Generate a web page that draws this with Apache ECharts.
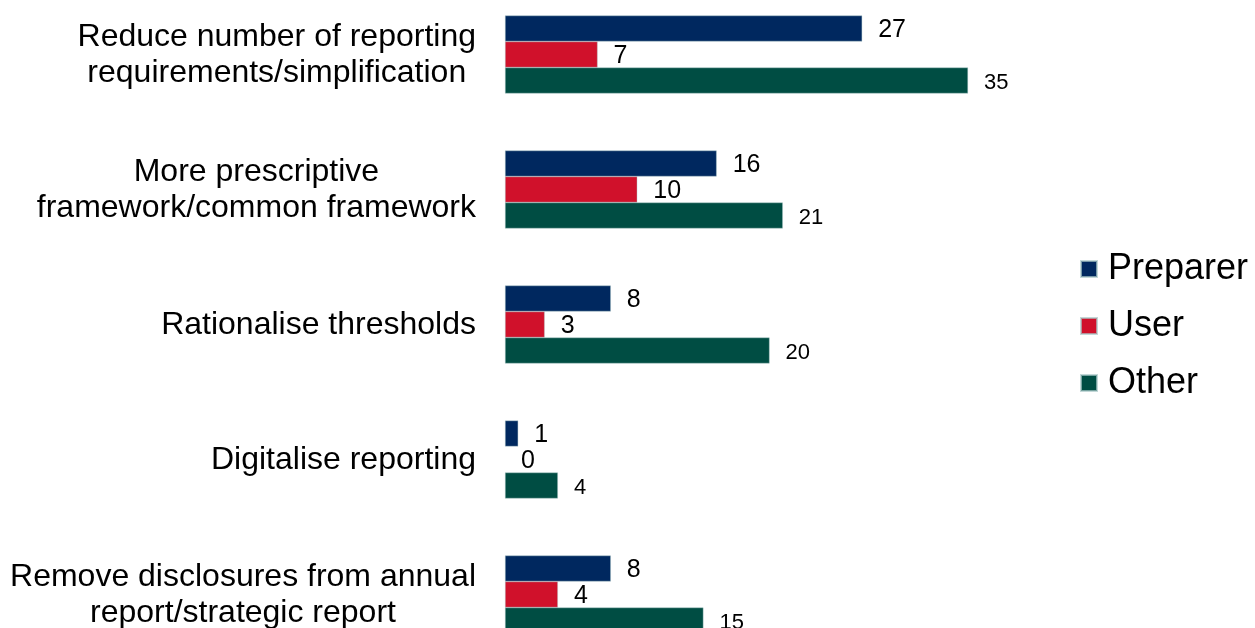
<!DOCTYPE html>
<html>
<head>
<meta charset="utf-8">
<script src="https://cdn.jsdelivr.net/npm/echarts@6/dist/echarts.min.js"></script>
<style>
  html, body { margin: 0; padding: 0; background: #ffffff; overflow: hidden; width: 1255px; height: 628px; }
  /* the plot runs past the bottom edge, so the canvas starts a little above the page */
  #chart { position: absolute; left: 0; top: -13px; width: 1255px; height: 700px; }
</style>
</head>
<body>
<div id="chart"></div>
<script>
// Suggested reporting changes, counted by respondent type
const categories = [
  'Reduce number of reporting\nrequirements/simplification',
  'More prescriptive\nframework/common framework',
  'Rationalise thresholds',
  'Digitalise reporting',
  'Remove disclosures from annual\nreport/strategic report'
];
const seriesNames = ['Preparer', 'User', 'Other'];
const preparer = [27, 16, 8, 1, 8];
const user = [7, 10, 3, 0, 4];
const other = [35, 21, 20, 4, 15];

const colors = ['#00285f', '#d0112b', '#004d43'];
const font = 'Liberation Sans, Arial, sans-serif';

function barSeries(name, data, color, labelSize) {
  return {
    name: name,
    type: 'bar',
    // zero-length bars get no outline
    data: data.map(function (v) {
      return v === 0 ? { value: v, itemStyle: { borderWidth: 0 } } : v;
    }),
    barWidth: 26,
    barGap: '0%',
    itemStyle: { color: color, borderColor: 'rgba(170,200,200,0.7)', borderWidth: 0.6 },
    label: {
      show: true,
      position: 'right',
      distance: 16,
      offset: [0, 2],
      color: '#000000',
      fontFamily: font,
      fontSize: labelSize
    }
  };
}

const chart = echarts.init(document.getElementById('chart'));
chart.setOption({
  backgroundColor: '#ffffff',
  animation: false,
  grid: { left: 505, width: 661.5, top: 0, height: 675, containLabel: false },
  xAxis: {
    type: 'value',
    min: 0,
    max: 50,
    show: false
  },
  yAxis: {
    type: 'category',
    data: categories,
    inverse: true,
    axisLine: { show: false },
    axisTick: { show: false },
    splitLine: { show: false },
    axisLabel: {
      margin: 29,
      align: 'right',
      // each line is centred inside the right-aligned label block
      formatter: function (value) {
        return value.split('\n').map(function (line) { return '{c|' + line + '}'; }).join('\n');
      },
      rich: {
        c: {
          align: 'center',
          color: '#000000',
          fontFamily: font,
          fontSize: 32,
          lineHeight: 36,
          padding: [2, 0, 0, 0]
        }
      }
    }
  },
  legend: {
    orient: 'vertical',
    left: 1080,
    top: 264,
    padding: 0,
    itemWidth: 16,
    itemHeight: 16,
    itemGap: 21,
    icon: 'rect',
    textStyle: { fontFamily: font, fontSize: 36, color: '#000000', padding: [0, 0, 0, 6] },
    data: seriesNames
  },
  series: [
    barSeries(seriesNames[0], preparer, colors[0], 25),
    barSeries(seriesNames[1], user, colors[1], 25),
    barSeries(seriesNames[2], other, colors[2], 22)
  ]
});
</script>
</body>
</html>
